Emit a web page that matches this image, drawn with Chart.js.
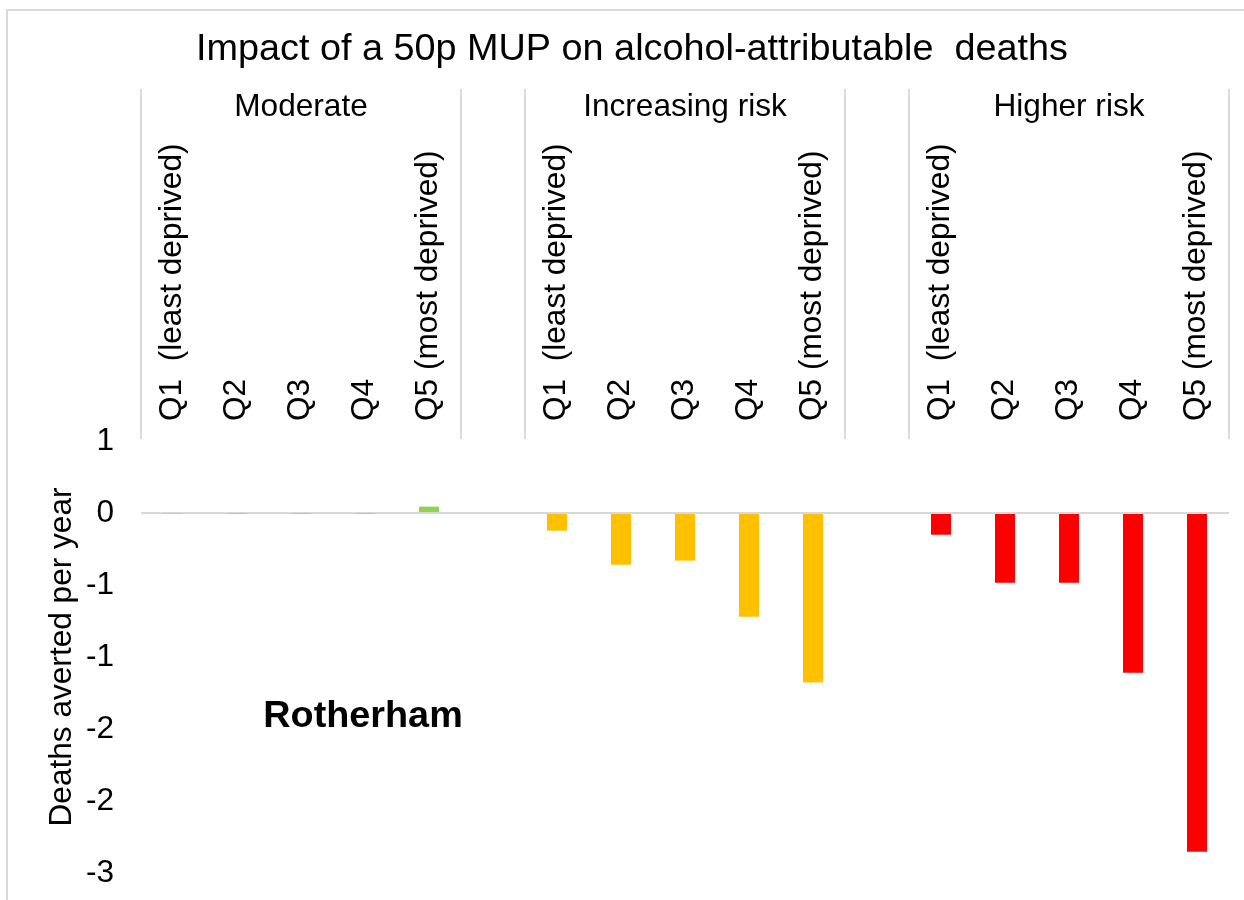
<!DOCTYPE html>
<html>
<head>
<meta charset="utf-8">
<script src="https://cdn.jsdelivr.net/npm/chart.js@4.4.0/dist/chart.umd.min.js"></script>
<style>
  html, body { margin: 0; padding: 0; background: #fff; overflow: hidden; }
  #frame { position: absolute; left: 6px; top: 9px; width: 1400px; height: 1000px; border: 2px solid #d9d9d9; }
  #wrap { position: absolute; left: 0; top: 0; width: 1244px; height: 900px; }
</style>
</head>
<body>
<div id="frame"></div>
<div id="wrap"><canvas id="chart"></canvas></div>
<script>
const quintiles = ['Q1  (least deprived)', 'Q2', 'Q3', 'Q4', 'Q5 (most deprived)'];
const groups = ['Moderate', 'Increasing risk', 'Higher risk'];
const moderate = [-0.004, -0.003, -0.003, -0.003, 0.044];
const increasingRisk = [-0.123, -0.359, -0.331, -0.720, -1.178];
const higherRisk = [-0.151, -0.484, -0.484, -1.109, -2.352];
const groupColors = ['#92D050', '#FFC000', '#FF0000'];
const yTickValues = [0.5, 0, -0.5, -1, -1.5, -2, -2.5];
const yTickLabels = ['1', '0', '-1', '-1', '-2', '-2', '-3'];

const FONT = '"Liberation Sans", Arial, sans-serif';
const TXT = 31.6;

// five quintiles per group, one empty slot between groups
const labels = [];
groups.forEach((g, gi) => {
    if (gi > 0) labels.push('');
    labels.push(...quintiles);
});

const series = [moderate, increasingRisk, higherRisk];
const datasets = series.map((vals, gi) => {
    const data = labels.map(() => null);
    vals.forEach((v, qi) => { data[gi * 6 + qi] = v; });
    return {
        label: groups[gi], data,
        backgroundColor: groupColors[gi],
        grouped: false, barPercentage: 0.3125, categoryPercentage: 1
    };
});

// separators and group names above the quintile labels, plus the area name
const groupBands = {
    id: 'groupBands',
    afterDraw(chart) {
        const { ctx, scales: { x } } = chart;
        const step = x.getPixelForValue(1) - x.getPixelForValue(0);
        const edge = k => x.getPixelForValue(0) + (k - 0.5) * step;
        ctx.save();
        ctx.strokeStyle = '#d9d9d9';
        ctx.lineWidth = 2;
        groups.forEach((g, gi) => {
            [gi * 6, gi * 6 + 5].forEach(k => {
                const px = Math.round(edge(k));
                ctx.beginPath();
                ctx.moveTo(px, x.top);
                ctx.lineTo(px, x.bottom - 2);
                ctx.stroke();
            });
        });
        ctx.fillStyle = '#000';
        ctx.textAlign = 'center';
        ctx.textBaseline = 'middle';
        ctx.font = TXT + 'px ' + FONT;
        groups.forEach((g, gi) => {
            ctx.fillText(g, (edge(gi * 6) + edge(gi * 6 + 5)) / 2, 107);
        });
        ctx.font = 'bold 37.8px ' + FONT;
        ctx.fillText('Rotherham', 363, 717);
        ctx.restore();
    }
};

new Chart(document.getElementById('chart'), {
    type: 'bar',
    data: { labels, datasets },
    plugins: [groupBands],
    options: {
        responsive: true,
        maintainAspectRatio: false,
        animation: false,
        layout: { padding: { left: 35, right: 15, top: 0, bottom: 27 } },
        plugins: {
            legend: { display: false },
            tooltip: { enabled: false },
            title: {
                display: true,
                text: 'Impact of a 50p MUP on alcohol-attributable  deaths',
                color: '#000',
                font: { family: FONT, size: 37.8, weight: 'normal' },
                padding: { top: 27.3, bottom: 16.3 }
            }
        },
        scales: {
            x: {
                position: 'top',
                afterFit: s => { s.height = 352; },
                grid: { display: false },
                border: { display: false },
                ticks: {
                    color: '#000', font: { family: FONT, size: TXT },
                    autoSkip: false, minRotation: 90, maxRotation: 90,
                    padding: 12, labelOffset: 37
                }
            },
            y: {
                min: -2.5, max: 0.5,
                afterFit: s => { s.width = 106; s.paddingTop = 0; s.paddingBottom = 0; },
                afterBuildTicks: s => { s.ticks = yTickValues.map(v => ({ value: v })); },
                grid: {
                    drawTicks: false,
                    lineWidth: 2,
                    color: c => (c.tick && c.tick.value === 0) ? '#d9d9d9' : 'rgba(0,0,0,0)'
                },
                border: { display: false },
                ticks: {
                    color: '#000', font: { family: FONT, size: TXT }, padding: 27,
                    callback: v => yTickLabels[yTickValues.indexOf(v)]
                },
                title: {
                    display: true, text: 'Deaths averted per year', color: '#000',
                    font: { family: FONT, size: TXT }, padding: { top: 8, bottom: 0 }
                }
            }
        }
    }
});
</script>
</body>
</html>
